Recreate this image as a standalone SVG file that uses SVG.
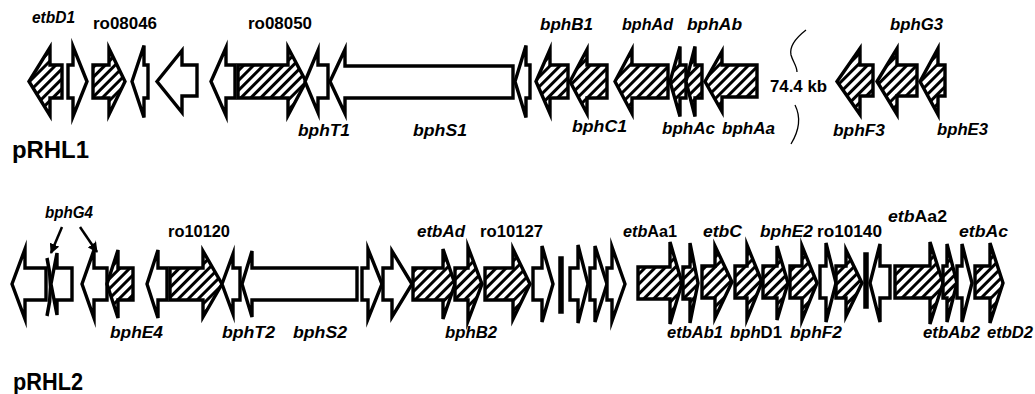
<svg xmlns="http://www.w3.org/2000/svg" width="1035" height="394" viewBox="0 0 1035 394">
<style>
.g{stroke:#000;stroke-width:3.4;stroke-linejoin:miter;stroke-miterlimit:6}
.w{fill:#fff}
.h{fill:url(#hatch)}
.bar{fill:#000;stroke:#000;stroke-width:1.5}
.lab{font-family:"Liberation Sans",Arial,Helvetica,sans-serif;font-weight:bold;font-style:italic;font-size:16px;fill:#000}
.rom{font-style:normal}
.big{font-family:"Liberation Sans",Arial,Helvetica,sans-serif;font-weight:bold;font-size:23px;fill:#000}
.con{stroke:#000;stroke-width:2.5;fill:none}
.brace{stroke:#000;stroke-width:1.3;fill:none}
</style>
<defs>
<pattern id="hatch" width="7" height="7" patternUnits="userSpaceOnUse" patternTransform="rotate(45)">
<rect width="7" height="7" fill="#fff"/>
<rect width="3" height="7" fill="#000"/>
</pattern>
<marker id="ah" viewBox="0 0 10 10" refX="9" refY="5" markerWidth="4" markerHeight="4" orient="auto" markerUnits="strokeWidth">
<path d="M0,0 L10,5 L0,10 z" fill="#000"/>
</marker>
</defs>
<rect width="1035" height="394" fill="#fff"/>

<!-- Row 1 -->
<g id="etbD1"><polygon class="g h" points="29,81.5 50,47.5 50,65 62,65 62,98 50,98 50,115.5"/><text class="lab" x="32" y="23" textLength="43" lengthAdjust="spacingAndGlyphs">etbD1</text></g>
<g id="r1g2"><polygon class="g w" points="87,81.5 73,46.5 73,65 68,65 68,98 73,98 73,116.5"/></g>
<g id="ro08046"><polygon class="g h" points="125,81.5 109,48.5 109,65 93,65 93,98 109,98 109,114.5"/><text class="lab rom" x="93" y="29" textLength="64" lengthAdjust="spacingAndGlyphs">ro08046</text></g>
<g id="r1g4"><polygon class="g w" points="132,81.5 144,45.5 144,65 148,65 148,98 144,98 144,117.5"/></g>
<g id="r1g5"><polygon class="g w" points="157,81.5 182,50.5 182,65 197,65 197,96 182,96 182,112.5"/></g>
<g id="r1g6"><polygon class="g w" points="211,81.5 226,47.5 226,65 235,65 235,98 226,98 226,115.5"/></g>
<g id="ro08050"><polygon class="g h" points="306,81.5 288,47.5 288,65 238,65 238,98 288,98 288,115.5"/><text class="lab rom" x="248" y="29" textLength="64" lengthAdjust="spacingAndGlyphs">ro08050</text></g>
<g id="bphT1"><polygon class="g w" points="305,81.5 318,50.5 318,65 328,65 328,98 318,98 318,112.5"/><text class="lab" x="298" y="136" textLength="52" lengthAdjust="spacingAndGlyphs">bphT1</text></g>
<g id="bphS1"><polygon class="g w" points="330,81.5 345,49.5 345,66 513,66 513,98 345,98 345,113.5"/><text class="lab" x="413" y="136" textLength="54" lengthAdjust="spacingAndGlyphs">bphS1</text></g>
<g id="r1g10"><polygon class="g w" points="515,81.5 526,45.5 526,65 530,65 530,98 526,98 526,117.5"/></g>
<g id="bphB1"><polygon class="g h" points="536,81.5 550,49.5 550,65 568,65 568,98 550,98 550,113.5"/><text class="lab" x="540" y="30" textLength="53" lengthAdjust="spacingAndGlyphs">bphB1</text></g>
<g id="bphC1"><polygon class="g h" points="570,81.5 587,49.5 587,65 607,65 607,98 587,98 587,113.5"/><text class="lab" x="572" y="132" textLength="55" lengthAdjust="spacingAndGlyphs">bphC1</text></g>
<g id="bphAd"><polygon class="g h" points="615,81.5 632,49.5 632,65 668,65 668,98 632,98 632,113.5"/><text class="lab" x="622" y="30" textLength="51" lengthAdjust="spacingAndGlyphs">bphAd</text></g>
<g id="bphAc"><polygon class="g h" points="670,81.5 680,46.5 680,65 686,65 686,98 680,98 680,116.5"/><text class="lab" x="662" y="134" textLength="53" lengthAdjust="spacingAndGlyphs">bphAc</text></g>
<g id="bphAb"><polygon class="g h" points="686,81.5 695,46.5 695,65 702,65 702,98 695,98 695,116.5"/><text class="lab" x="687" y="30" textLength="55" lengthAdjust="spacingAndGlyphs">bphAb</text></g>
<g id="bphAa"><polygon class="g h" points="705,81.5 722,51.5 722,65 757,65 757,97 722,97 722,111.5"/><text class="lab" x="722" y="134" textLength="53" lengthAdjust="spacingAndGlyphs">bphAa</text></g>
<g id="gap">
<path class="brace" d="M806,30 C797,37 789,46 791,55 C793,62 797,66 797,72"/>
<path class="brace" d="M795,105 C799,113 802,126 791,144"/>
<text class="lab rom" x="770" y="92" font-size="15" textLength="57" lengthAdjust="spacingAndGlyphs">74.4 kb</text>
</g>
<g id="bphF3"><polygon class="g h" points="837,81.5 860,48.5 860,65 873,65 873,96 860,96 860,114.5"/><text class="lab" x="833" y="136" textLength="52" lengthAdjust="spacingAndGlyphs">bphF3</text></g>
<g id="bphG3"><polygon class="g h" points="877,81.5 897,48.5 897,65 917,65 917,96 897,96 897,114.5"/><text class="lab" x="890" y="30" textLength="53" lengthAdjust="spacingAndGlyphs">bphG3</text></g>
<g id="bphE3"><polygon class="g h" points="920,81.5 938,48.5 938,65 945,65 945,96 938,96 938,114.5"/><text class="lab" x="937" y="135" textLength="51" lengthAdjust="spacingAndGlyphs">bphE3</text></g>
<g id="pRHL1"><text class="big" x="12" y="158" textLength="77" lengthAdjust="spacingAndGlyphs">pRHL1</text></g>

<!-- Row 2 -->
<g id="r2A"><polygon class="g w" points="12,284 25,249 25,268 46,268 46,300 25,300 25,319"/></g>
<g id="r2B"><path d="M47,258 Q54,287 47,316" stroke="#000" stroke-width="3.5" fill="none"/></g>
<g id="r2C"><polygon class="g w" points="51,284 57,253 57,268 72,268 72,300 57,300 57,315"/></g>
<g id="r2D"><polygon class="g w" points="82,284 94,250 94,268 107,268 107,300 94,300 94,318"/></g>
<g id="bphE4"><polygon class="g h" points="107,284 118,250 118,268 133,268 133,300 118,300 118,318"/><text class="lab" x="110" y="338" textLength="53" lengthAdjust="spacingAndGlyphs">bphE4</text></g>
<g id="r2F"><polygon class="g w" points="147,284 158,250 158,268 167,268 167,300 158,300 158,318"/></g>
<g id="ro10120"><polygon class="g h" points="222,284 203,251 203,268 170,268 170,300 203,300 203,317"/><text class="lab rom" x="168" y="237" textLength="62" lengthAdjust="spacingAndGlyphs">ro10120</text></g>
<g id="bphT2"><polygon class="g w" points="222,284 233,254 233,268 240,268 240,300 233,300 233,314"/><text class="lab" x="222" y="338" textLength="53" lengthAdjust="spacingAndGlyphs">bphT2</text></g>
<g id="bphS2"><polygon class="g w" points="242,284 252,251 252,268 357,268 357,300 252,300 252,317"/><text class="lab" x="293" y="338" textLength="54" lengthAdjust="spacingAndGlyphs">bphS2</text></g>
<g id="r2J"><polygon class="g w" points="382,284 368,249 368,268 362,268 362,300 368,300 368,319"/></g>
<g id="r2K"><polygon class="g w" points="412,284 392,251 392,268 383,268 383,300 392,300 392,317"/></g>
<g id="etbAd"><polygon class="g h" points="455,284 443,249 443,268 413,268 413,300 443,300 443,319"/><text class="lab" x="417" y="237" textLength="48" lengthAdjust="spacingAndGlyphs">etbAd</text></g>
<g id="bphB2"><polygon class="g h" points="482,284 468,247 468,268 455,268 455,300 468,300 468,321"/><text class="lab" x="445" y="338" textLength="52" lengthAdjust="spacingAndGlyphs">bphB2</text></g>
<g id="ro10127"><polygon class="g h" points="530,284 513,249 513,268 485,268 485,300 513,300 513,319"/><text class="lab rom" x="480" y="237" textLength="63" lengthAdjust="spacingAndGlyphs">ro10127</text></g>
<g id="r2O"><polygon class="g w" points="553,284 542,246 542,268 533,268 533,300 542,300 542,322"/></g>
<g id="r2P"><rect class="bar" x="559" y="257" width="4" height="56"/></g>
<g id="r2Q"><polygon class="g w" points="588,284 578,245 578,268 570,268 570,300 578,300 578,323"/></g>
<g id="r2R"><polygon class="g w" points="607,284 595,246 595,268 590,268 590,300 595,300 595,322"/></g>
<g id="r2S"><polygon class="g w" points="625,284 612,247 612,268 607,268 607,300 612,300 612,321"/></g>
<g id="etbAa1"><polygon class="g h" points="682,283 670,242 670,267 638,267 638,299 670,299 670,324"/><text class="lab" x="623" y="237" textLength="54" lengthAdjust="spacingAndGlyphs">etb<tspan class="rom">Aa1</tspan></text></g>
<g id="etbAb1"><polygon class="g h" points="698,283 690,243 690,267 683,267 683,299 690,299 690,323"/><text class="lab" x="667" y="338" textLength="56" lengthAdjust="spacingAndGlyphs">etbAb1</text></g>
<g id="etbC"><polygon class="g h" points="732,282 715,246 715,266 702,266 702,298 715,298 715,318"/><text class="lab" x="703" y="237" textLength="39" lengthAdjust="spacingAndGlyphs">etbC</text></g>
<g id="bphD1"><polygon class="g h" points="762,282 747,245 747,266 735,266 735,298 747,298 747,319"/><text class="lab" x="730" y="338" textLength="52" lengthAdjust="spacingAndGlyphs">bph<tspan class="rom">D1</tspan></text></g>
<g id="bphE2"><polygon class="g h" points="788,283 777,246 777,266 763,266 763,298 777,298 777,320"/><text class="lab" x="760" y="237" textLength="53" lengthAdjust="spacingAndGlyphs">bphE2</text></g>
<g id="bphF2"><polygon class="g h" points="817,283 802,246 802,266 790,266 790,298 802,298 802,320"/><text class="lab" x="790" y="338" textLength="52" lengthAdjust="spacingAndGlyphs">bphF2</text></g>
<g id="r2Z"><polygon class="g w" points="836,283 826,243 826,266 820,266 820,298 826,298 826,322"/></g>
<g id="ro10140"><polygon class="g h" points="862,283 846,250 846,266 836,266 836,298 846,298 846,316"/><text class="lab rom" x="817" y="237" textLength="65" lengthAdjust="spacingAndGlyphs">ro10140</text></g>
<g id="r2AB"><rect class="bar" x="864" y="253" width="4" height="55"/></g>
<g id="r2AC"><polygon class="g w" points="870,283 880,244 880,266 890,266 890,298 880,298 880,322"/></g>
<g id="etbAa2"><polygon class="g h" points="943,283 930,242 930,266 895,266 895,298 930,298 930,324"/><text class="lab" x="888" y="222" textLength="59" lengthAdjust="spacingAndGlyphs">etb<tspan class="rom">Aa2</tspan></text></g>
<g id="etbAb2"><polygon class="g h" points="957,283 947,244 947,266 943,266 943,298 947,298 947,322"/><text class="lab" x="923" y="338" textLength="57" lengthAdjust="spacingAndGlyphs">etbAb2</text></g>
<g id="etbAc"><polygon class="g w" points="972,283 962,244 962,266 957,266 957,298 962,298 962,322"/><text class="lab" x="959" y="237" textLength="49" lengthAdjust="spacingAndGlyphs">etbAc</text></g>
<g id="etbD2"><polygon class="g h" points="1003,283 990,243 990,266 975,266 975,298 990,298 990,323"/><text class="lab" x="987" y="338" textLength="46" lengthAdjust="spacingAndGlyphs">etbD2</text></g>
<g id="bphG4"><text class="lab" x="45" y="218" textLength="48" lengthAdjust="spacingAndGlyphs">bphG4</text></g>
<g id="pRHL2"><text class="big" x="13" y="390" textLength="70" lengthAdjust="spacingAndGlyphs">pRHL2</text></g>

<g id="connectors">
<line class="con" x1="62" y1="227" x2="51" y2="253" marker-end="url(#ah)"/>
<line class="con" x1="80" y1="227" x2="97" y2="252" marker-end="url(#ah)"/>
</g>
</svg>
